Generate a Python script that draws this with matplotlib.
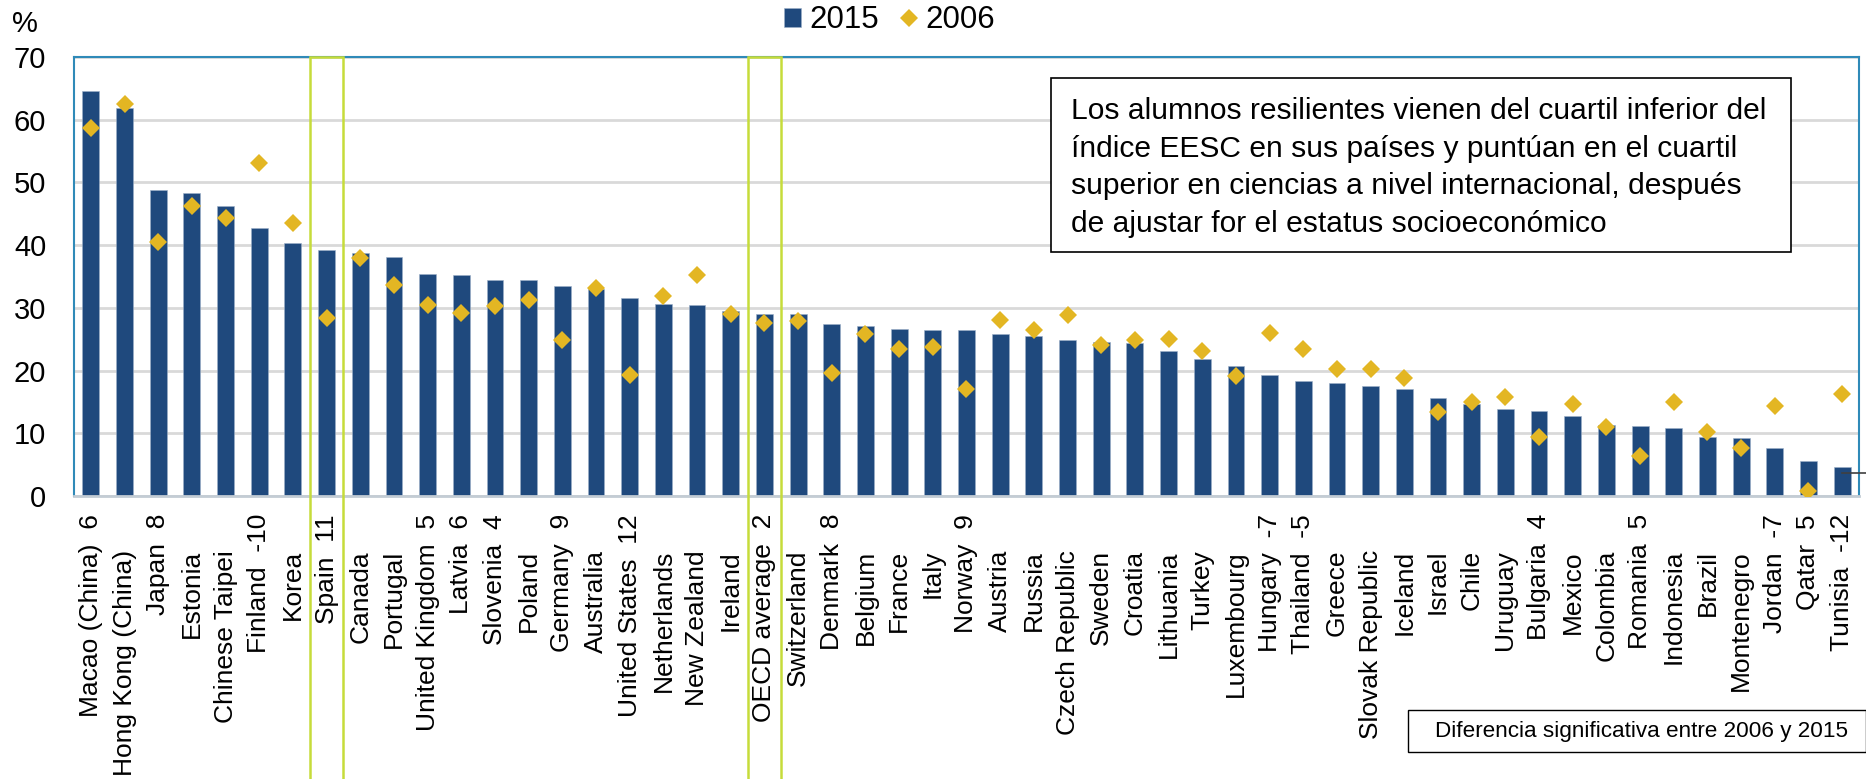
import numpy as np
import matplotlib
matplotlib.use("Agg")
import matplotlib.pyplot as plt
from matplotlib.patches import Rectangle
from matplotlib.transforms import blended_transform_factory, offset_copy

plt.rcParams['font.family'] = ['Liberation Sans', 'DejaVu Sans']

# data
countries = ["Macao (China)", "Hong Kong (China)", "Japan", "Estonia", "Chinese Taipei",
             "Finland", "Korea", "Spain", "Canada", "Portugal", "United Kingdom", "Latvia",
             "Slovenia", "Poland", "Germany", "Australia", "United States", "Netherlands",
             "New Zealand", "Ireland", "OECD average", "Switzerland", "Denmark", "Belgium",
             "France", "Italy", "Norway", "Austria", "Russia", "Czech Republic", "Sweden",
             "Croatia", "Lithuania", "Turkey", "Luxembourg", "Hungary", "Thailand", "Greece",
             "Slovak Republic", "Iceland", "Israel", "Chile", "Uruguay", "Bulgaria", "Mexico",
             "Colombia", "Romania", "Indonesia", "Brazil", "Montenegro", "Jordan", "Qatar",
             "Tunisia"]

# significant difference between 2006 and 2015 (shown next to the name)
diffs = ["6", "", "8", "", "", "-10", "", "11", "", "", "5", "6", "4", "", "9", "", "12",
         "", "", "", "2", "", "8", "", "", "", "9", "", "", "", "", "", "", "", "", "-7",
         "-5", "", "", "", "", "", "", "4", "", "", "5", "", "", "", "-7", "5", "-12"]

v2015 = [64.6, 61.8, 48.8, 48.3, 46.3, 42.7, 40.3, 39.2, 38.7, 38.1, 35.4, 35.2, 34.5,
         34.5, 33.5, 33.0, 31.6, 30.6, 30.4, 29.5, 29.1, 29.0, 27.5, 27.1, 26.6, 26.5,
         26.4, 25.8, 25.5, 24.9, 24.6, 24.4, 23.1, 21.8, 20.7, 19.3, 18.4, 18.0, 17.5,
         17.0, 15.6, 14.7, 13.9, 13.5, 12.8, 11.4, 11.2, 10.9, 9.4, 9.3, 7.6, 5.6, 4.6]

v2006 = [58.7, 62.5, 40.5, 46.2, 44.3, 53.1, 43.5, 28.4, 37.9, 33.7, 30.4, 29.2, 30.3,
         31.3, 24.8, 33.1, 19.3, 31.9, 35.2, 29.1, 27.6, 27.9, 19.6, 25.9, 23.5, 23.7,
         17.1, 28.1, 26.5, 28.9, 24.0, 24.9, 25.1, 23.2, 19.2, 26.0, 23.5, 20.3, 20.3,
         18.8, 13.4, 15.0, 15.8, 9.4, 14.7, 11.0, 6.4, 15.0, 10.2, 7.6, 14.3, 0.8, 16.3]

highlight = ["Spain", "OECD average"]

note = ("Los alumnos resilientes vienen del cuartil inferior del\n"
        "índice EESC en sus países y puntúan en el cuartil\n"
        "superior en ciencias a nivel internacional, después\n"
        "de ajustar for el estatus socioeconómico")
sig_note = "Diferencia significativa entre 2006 y 2015"

W, H = 1866, 779
fig = plt.figure(figsize=(W / 100, H / 100), dpi=100)
ax = fig.add_axes([74 / W, 1 - 496 / H, (1859 - 74) / W, (496 - 57) / H])

x = np.arange(len(countries))
bars = ax.bar(x, v2015, width=0.5, color='#1f497d', edgecolor='#9db0c8', linewidth=0.4,
              zorder=2)
pts, = ax.plot(x, v2006, 'D', color='#e3b623', ms=9, mew=0, zorder=3)

ax.set_xlim(-0.5, len(countries) - 0.5)
ax.set_ylim(0, 70)
ax.set_yticks(range(0, 71, 10))
ax.yaxis.grid(True, color='#d9d9d9', lw=2)
ax.set_axisbelow(True)
ax.tick_params(axis='y', length=0, pad=20, labelsize=21)

# category labels: names with a difference start right under the axis,
# the others leave room for the difference column
ax.set_xticks(x)
ax.set_xticklabels([])
ax.tick_params(axis='x', length=0)
tr_lab = blended_transform_factory(ax.transData, ax.transAxes)
for i, (name, d) in enumerate(zip(countries, diffs)):
    if d:
        txt, off = name + "  " + d, 18
    else:
        txt, off = name, 54
    ax.text(i, 0, txt, rotation=90, va='top', ha='center', fontsize=19,
            transform=offset_copy(tr_lab, fig=fig, y=-off, units='dots'))

for s in ['top', 'left', 'right']:
    ax.spines[s].set_color('#2f8ab8')
    ax.spines[s].set_linewidth(1.5)
ax.spines['bottom'].set_color('#c3ccd4')
ax.spines['bottom'].set_linewidth(2)

# highlight boxes for Spain and OECD average
tr = blended_transform_factory(ax.transData, ax.transAxes)
for name in highlight:
    i = countries.index(name)
    ax.add_patch(Rectangle((i - 0.5, -0.7), 1, 1.7, transform=tr, fill=False,
                           edgecolor='#c6dc3a', lw=1.8, clip_on=False, zorder=4))

# small leader line at the right end
ax.plot([len(countries) - 1, len(countries) - 0.25], [3.7, 3.7], color='#404040',
        lw=1.2, clip_on=False, zorder=4)

# legend
fig.legend([bars, pts], ['2015', '2006'], loc='center', bbox_to_anchor=(0.4767, 0.974),
           ncol=2, frameon=False, fontsize=22.5, handlelength=0.55, handleheight=0.55,
           handletextpad=0.25, columnspacing=0.7, borderpad=0)

fig.text(12 / W, 1 - 10 / H, '%', va='top', ha='left', fontsize=21)

# note box
fig.add_artist(Rectangle((1051 / W, 1 - 252 / H), (1791 - 1051) / W, (252 - 78) / H,
                         transform=fig.transFigure, fill=True, facecolor='white',
                         edgecolor='black', lw=1.2, zorder=5))
fig.text(1071 / W, 1 - 97 / H, note, va='top', ha='left', fontsize=21.6,
         linespacing=1.44, zorder=6)

# significance box
fig.add_artist(Rectangle((1408 / W, 1 - 752 / H), (1866 - 1408) / W, (752 - 710) / H,
                         transform=fig.transFigure, fill=False, edgecolor='black',
                         lw=1.0))
fig.text(1642 / W, 1 - 731 / H, sig_note, va='center', ha='center', fontsize=16.2)

fig.savefig('out.png', dpi=100)
